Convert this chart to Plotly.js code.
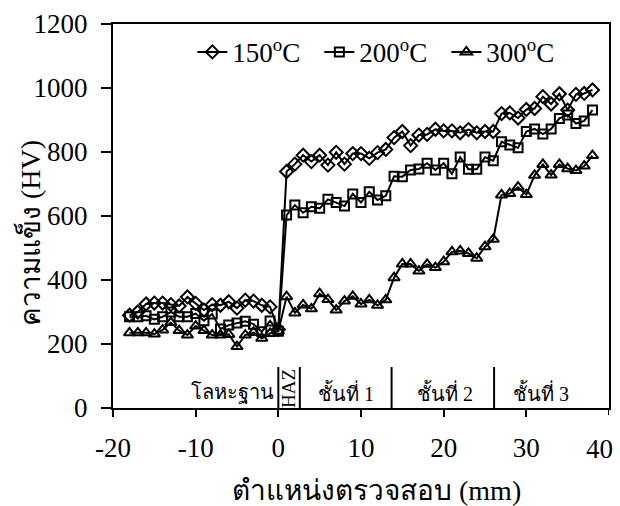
<!DOCTYPE html>
<html>
<head>
<meta charset="utf-8">
<script src="https://cdn.plot.ly/plotly-3.0.1.min.js"></script>
<style>html,body{margin:0;padding:0;background:#fff;}#chart{width:620px;height:506px;}</style>
</head>
<body>
<div id="chart"></div>
<script>
const positions = [-18,-17,-16,-15,-14,-13,-12,-11,-10,-9,-8,-7,-6,-5,-4,-3,-2,-1,0,
  1,2,3,4,5,6,7,8,9,10,11,12,13,14,15,16,17,18,19,20,21,22,23,24,25,26,27,28,29,30,31,32,33,34,35,36,37,38];
const hv150 = [290,300,325,328,328,323,319,347,327,306,323,321,332,312,337,334,321,316,245,
  739,762,790,770,790,759,799,762,795,795,780,798,808,845,864,820,853,855,871,866,866,860,870,860,864,864,920,922,906,933,936,973,950,982,931,980,983,994];
const hv200 = [285,285,288,277,285,300,285,285,295,273,294,247,259,266,271,262,238,272,240,
  603,634,610,629,624,652,642,631,669,642,676,650,663,724,723,744,747,765,744,765,732,784,746,746,784,773,832,822,813,864,872,856,872,905,916,889,897,931];
const hv300 = [235,235,235,231,244,267,242,228,256,242,228,228,230,192,228,236,218,233,240,
  348,297,322,310,357,339,306,334,349,325,338,321,338,407,450,450,428,449,439,457,488,491,483,468,504,527,666,670,690,667,727,761,728,761,748,742,756,789];
const seriesNames = ['150<sup>o</sup>C','200<sup>o</sup>C','300<sup>o</sup>C'];
const xTickVals = [-20,-10,0,10,20,30];
const xTickText = ['-20','-10','0','10','20','30'];
const xEndTick = 40;            // last x tick, drawn as an annotation so it stays inside the page
const xEndTickText = '40';
const yTickVals = [0,200,400,600,800,1000,1200];
const yTickText = ['0','200','400','600','800','1000','1200'];
const zoneLabels = ['โลหะฐาน','HAZ','ชั้นที่ 1','ชั้นที่ 2','ชั้นที่ 3'];
const zoneLabelX = [-0.3, 1.3, 8.2, 20.2, 31.8];
const separatorX = [0, 2.6, 13.7, 26.1];
const separatorTop = 128;
const xTitle = 'ตำแหน่งตรวจสอบ (mm)';
const yTitle = 'ความแข็ง (HV)';

const serif = "'Liberation Serif', 'Times New Roman', serif";
const symbols = ['diamond-open','square-open','triangle-up-open'];
const sizes = [10,9,10];
const ys = [hv150, hv200, hv300];

const traces = ys.map((y,i)=>({
  x: positions, y: y, name: seriesNames[i], type:'scatter', mode:'lines+markers',
  line:{color:'#000', width:2},
  marker:{symbol:symbols[i], size:sizes[i], color:'#000', line:{color:'#000', width:2}}
}));

const shapes = separatorX.map(x=>({type:'line', xref:'x', yref:'y', x0:x, x1:x, y0:0, y1:separatorTop, line:{color:'#000', width:2}}));
// tick mark for the end tick
shapes.push({type:'line', xref:'x', yref:'paper', x0:xEndTick, x1:xEndTick, y0:0, y1:-7/384, line:{color:'#000', width:2}});

const annotations = zoneLabels.map((t,i)=>{
  const a = {text:t, x:zoneLabelX[i], y:47, xref:'x', yref:'y', showarrow:false,
    font:{family:serif, size:20, color:'#000'}, xanchor:'center', yanchor:'middle'};
  if(i===0){a.xanchor='right';}
  if(i===1){a.textangle=-90; a.y=60; a.font={family:serif, size:19, color:'#000'};}
  return a;
});
annotations.push({text:xEndTickText, x:xEndTick, xref:'x', xanchor:'right', xshift:6,
  yref:'paper', y:-(432-408)/384, yanchor:'top', showarrow:false,
  font:{family:serif, size:27, color:'#000'}});
// axis titles
annotations.push({text:xTitle, xref:'paper', yref:'paper', x:(376-113)/496, y:-(490-408)/384,
  xanchor:'center', yanchor:'middle', showarrow:false, font:{family:serif, size:28, color:'#000'}});
annotations.push({text:yTitle, xref:'paper', yref:'paper', x:-(113-30)/496, y:(408-233)/384,
  xanchor:'center', yanchor:'middle', textangle:-90, showarrow:false, font:{family:serif, size:28, color:'#000'}});

const layout = {
  width:620, height:506,
  margin:{l:113, r:11, t:24, b:98},
  paper_bgcolor:'#fff', plot_bgcolor:'#fff',
  font:{family:serif, size:27, color:'#000'},
  showlegend:true,
  legend:{orientation:'h', x:0.16, xanchor:'left', y:0.99, yanchor:'top',
    font:{family:serif, size:27, color:'#000'}, bgcolor:'rgba(0,0,0,0)', entrywidth:82, entrywidthmode:'pixels',
    tracegroupgap:0},
  xaxis:{range:[-20,40], tickmode:'array', tickvals:xTickVals, ticktext:xTickText, showgrid:false, zeroline:false,
    showline:true, linecolor:'#000', linewidth:2, mirror:true, ticklabeloverflow:'allow',
    ticks:'outside', ticklen:7, tickwidth:2, tickcolor:'#000', ticklabelstandoff:8,
    tickfont:{family:serif, size:27, color:'#000'}},
  yaxis:{range:[0,1200], tickmode:'array', tickvals:yTickVals, ticktext:yTickText, showgrid:false, zeroline:false,
    showline:true, linecolor:'#000', linewidth:2, mirror:true, ticklabeloverflow:'allow',
    ticks:'outside', ticklen:10, tickwidth:2, tickcolor:'#000', ticklabelstandoff:8,
    tickfont:{family:serif, size:27, color:'#000'}},
  shapes: shapes,
  annotations: annotations
};
Plotly.newPlot('chart', traces, layout, {displayModeBar:false, staticPlot:true});
</script>
</body>
</html>
